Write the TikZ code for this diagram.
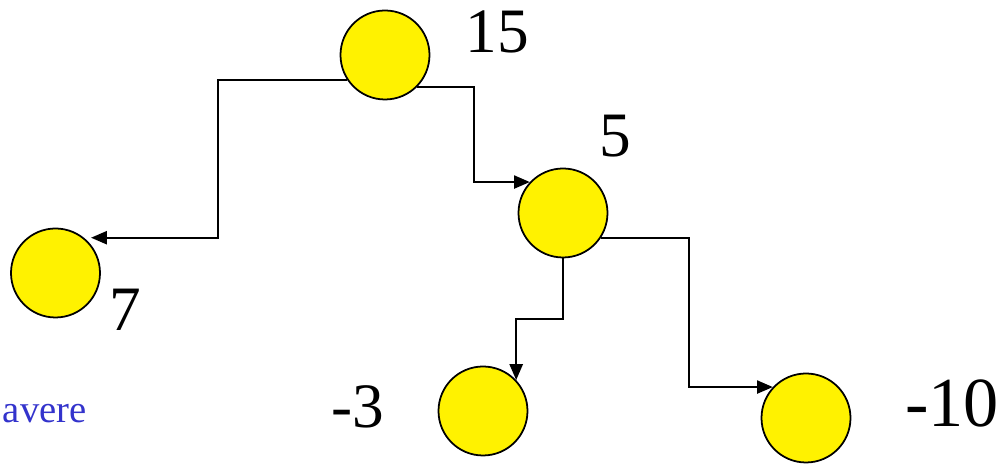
\documentclass[tikz,border=0pt]{standalone}
\usepackage{fontspec}
\setmainfont{Liberation Serif}
\usetikzlibrary{arrows.meta,positioning}
\definecolor{notecolor}{RGB}{51,51,204}

\begin{document}
\begin{tikzpicture}[%
    >={Triangle[length=9pt,width=7.5pt]},
    node distance=2cm,
    on grid,
    vertex/.style={circle, draw, fill=yellow, minimum size=1.78cm, inner sep=0pt},
    weight/.style={font=\fontsize{36}{40}\selectfont, inner sep=0pt},
    line width=1pt]
    \clip (0,0) rectangle (20,9.28);

    \node[vertex] (fifteen) at (7.70,8.18) {};
    \node[vertex] (five) [below right=3.16cm and 3.56cm of fifteen] {};
    \node[vertex] (seven) [below left=4.36cm and 6.59cm of fifteen] {};
    \node[vertex] (minus_three) [below left=3.96cm and 1.60cm of five] {};
    \node[vertex] (minus_ten) [below right=4.10cm and 4.86cm of five] {};

    \node[weight] (l_fifteen) [above right=0.47cm and 2.24cm of fifteen] {15};
    \node[weight] (l_five) [above right=1.54cm and 1.04cm of five] {5};
    \node[weight] (l_seven) [below right=0.73cm and 1.40cm of seven] {7};
    \node[weight] (l_minus_three) [above left=0.08cm and 2.51cm of minus_three] {-3};
    \node[weight, font=\fontsize{40}{44}\selectfont] (l_minus_ten) [above right=0.29cm and 2.92cm of minus_ten] {-10};

    \node[text=notecolor, font=\fontsize{22}{26}\selectfont, inner sep=0pt, anchor=west] (note) at (0.04,1.00) {avere};

    \coordinate (bend_a) at (4.36,6.0);
    \coordinate (bend_b) at (9.48,7.0);
    \coordinate (bend_c) at (10.8,2.90);
    \coordinate (bend_d) at (13.78,3.0);

    \draw[->, shorten >=4pt] (fifteen.214) -| (bend_a) |- (seven.51);
    \draw[->] (fifteen.-45) -| (bend_b) |- (five.137);
    \draw[->] (five.south) |- (bend_c) -| (minus_three.43);
    \draw[->] (five.-34) -| (bend_d) |- (minus_ten.137);
  \end{tikzpicture}
\end{document}
